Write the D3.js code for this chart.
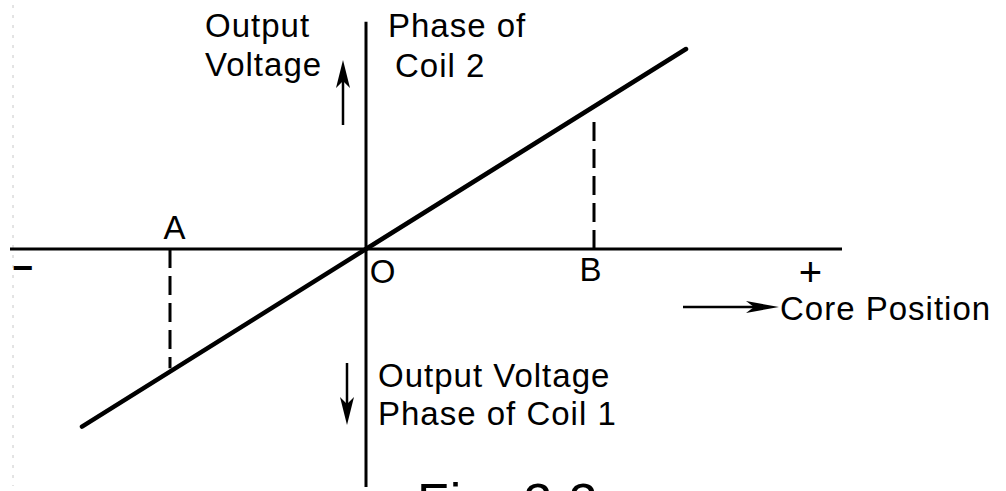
<!DOCTYPE html>
<html>
<head>
<meta charset="utf-8">
<script src="https://cdn.jsdelivr.net/npm/d3@7"></script>
<style>
  body { margin: 0; background: #fff; }
  svg text { font-family: "Liberation Sans", Arial, sans-serif; fill: #000; }
</style>
</head>
<body>
<div id="chart"></div>
<script>
// transfer line of the LVDT: core position -> output voltage
const linePos = [-3.55, 0, 4.0];
const lineVolt = [-2.22, 0, 2.5];

// dashed drop lines at points A and B
const markNames = ["A", "B"];
const markPos = [-2.45, 2.85];
const markVolt = [-1.49, 1.68];

// axis extents (same units as above)
const xExtent = [-4.45, 5.95];
const yExtent = [-2.975, 2.84];

const width = 1006, height = 491;
const ox = 366, oy = 249, unit = 80;

const x = d3.scaleLinear().domain([0, 1]).range([ox, ox + unit]);
const y = d3.scaleLinear().domain([0, 1]).range([oy, oy - unit]);

const svg = d3.select("#chart").append("svg")
    .attr("width", width)
    .attr("height", height);

// faint scan edge on the left
svg.append("line")
    .attr("x1", 13).attr("x2", 13)
    .attr("y1", 5).attr("y2", 486)
    .attr("stroke", "#c8c8c8")
    .attr("stroke-width", 1)
    .attr("stroke-dasharray", "3,7");

// axes
svg.append("line")
    .attr("x1", x(xExtent[0])).attr("x2", x(xExtent[1]))
    .attr("y1", y(0)).attr("y2", y(0))
    .attr("stroke", "#000").attr("stroke-width", 3);

svg.append("line")
    .attr("x1", x(0)).attr("x2", x(0))
    .attr("y1", y(yExtent[1])).attr("y2", y(yExtent[0]))
    .attr("stroke", "#000").attr("stroke-width", 3);

// dashed lines
markNames.forEach((name, i) => {
    svg.append("line")
        .attr("x1", x(markPos[i])).attr("x2", x(markPos[i]))
        .attr("y1", y(0)).attr("y2", y(markVolt[i]))
        .attr("stroke", "#000")
        .attr("stroke-width", 3)
        .attr("stroke-dasharray", "19,8");
});

// main line
const pts = linePos.map((p, i) => ({ pos: p, volt: lineVolt[i] }));
const line = d3.line().x(d => x(d.pos)).y(d => y(d.volt));
svg.append("path")
    .datum(pts)
    .attr("fill", "none")
    .attr("stroke", "#000")
    .attr("stroke-width", 4.5)
    .attr("stroke-linecap", "round")
    .attr("d", line);

// labels
const fs = 33;
function label(txt, px, py, anchor, size) {
    return svg.append("text")
        .attr("x", px).attr("y", py)
        .attr("text-anchor", anchor || "start")
        .style("font-size", (size || fs) + "px")
        .style("letter-spacing", "1px")
        .text(txt);
}

label("A", x(markPos[0]) + 5, 239, "middle");
label("B", x(markPos[1]) - 3, 281, "middle");
label("O", x(0) + 17, 283, "middle");
label("\u2212", 23, 280, "middle", 36).style("font-weight", "bold");
label("+", 811, 286, "middle", 40);

label("Output", 205, 37);
label("Voltage", 205, 76);
label("Phase of", 388, 37);
label("Coil 2", 395, 77);

label("Output Voltage", 378, 387);
label("Phase of Coil 1", 378, 425);

label("Core Position", 780, 320);

label("Fig. 2.2", 417, 520, "start", 52);

// arrows
const arrowHead = (x0, y0, dir) => {
    if (dir === "up") return `M${x0},${y0} L${x0 - 7},${y0 + 28} L${x0},${y0 + 21} L${x0 + 7},${y0 + 28} Z`;
    if (dir === "down") return `M${x0},${y0} L${x0 - 7},${y0 - 28} L${x0},${y0 - 21} L${x0 + 7},${y0 - 28} Z`;
    return `M${x0},${y0} L${x0 - 33},${y0 - 6} L${x0 - 25},${y0} L${x0 - 33},${y0 + 6} Z`;
};

svg.append("line").attr("x1", 343).attr("x2", 343).attr("y1", 125).attr("y2", 80)
    .attr("stroke", "#000").attr("stroke-width", 2.5);
svg.append("path").attr("d", arrowHead(343, 60, "up")).attr("fill", "#000");

svg.append("line").attr("x1", 347).attr("x2", 347).attr("y1", 363).attr("y2", 405)
    .attr("stroke", "#000").attr("stroke-width", 2.5);
svg.append("path").attr("d", arrowHead(347, 425, "down")).attr("fill", "#000");

svg.append("line").attr("x1", 683).attr("x2", 760).attr("y1", 307).attr("y2", 307)
    .attr("stroke", "#000").attr("stroke-width", 2.5);
svg.append("path").attr("d", arrowHead(779, 307, "right")).attr("fill", "#000");
</script>
</body>
</html>
